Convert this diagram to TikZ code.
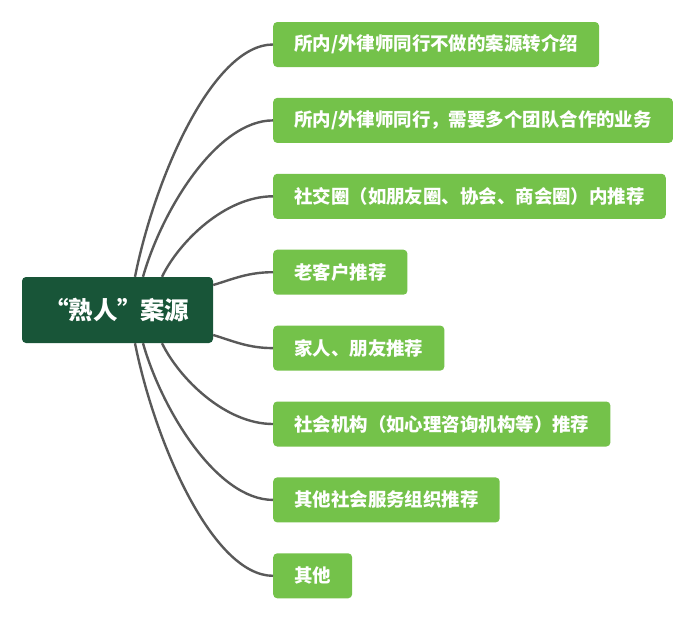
\documentclass[tikz,border=0pt]{standalone}
\usepackage{fontspec}
\newfontfamily\cjk{Noto Sans CJK SC}

\definecolor{rootgreen}{HTML}{185538}
\definecolor{leafgreen}{HTML}{74C24A}
\definecolor{linkgray}{HTML}{595959}

\tikzset{
  rootbox/.style={fill=rootgreen, text=white, rounded corners=4pt, minimum width=191pt, minimum height=66pt, inner sep=0pt, font=\cjk\bfseries\fontsize{24.5pt}{26pt}\selectfont},
  leafbox/.style={fill=leafgreen, text=white, rounded corners=4pt, minimum height=45pt, inner xsep=21pt, inner ysep=0pt, anchor=west, font=\cjk\bfseries\fontsize{18.45pt}{20pt}\selectfont},
  link/.style={draw=linkgray, line width=2.4pt}
}

\begin{document}
\begin{tikzpicture}[x=1pt, y=-1pt]
  \useasboundingbox (0,0) rectangle (695,619);

  \node[rootbox] (root) at (117.5,310) {\hspace*{8.5pt}\makebox[0.6em][r]{“}熟人\makebox[0.92em][l]{”}案源};

  \node[leafbox] (b1) at (273,44.5) {所内/外律师同行不做的案源转介绍};
  \node[leafbox] (b2) at (273,120.4) {所内/外律师同行，需要多个团队合作的业务};
  \node[leafbox] (b3) at (273,196.3) {社交圈（如朋友圈、协会、商会圈）内推荐};
  \node[leafbox] (b4) at (273,272.2) {老客户推荐};
  \node[leafbox] (b5) at (273,348.1) {家人、朋友推荐};
  \node[leafbox] (b6) at (273,424) {社会机构（如心理咨询机构等）推荐};
  \node[leafbox] (b7) at (273,499.9) {其他社会服务组织推荐};
  \node[leafbox] (b8) at (273,575.8) {其他};

  % links, upper half
  \draw[link] ([xshift=17.5pt]root.north) .. controls +(20,-100) and +(-60,0) .. (b1.west);
  \draw[link] ([xshift=25.5pt]root.north) .. controls +(19,-67) and +(-56,0) .. (b2.west);
  \draw[link] ([xshift=44.5pt]root.north) .. controls +(17,-35) and +(-48,0) .. (b3.west);
  \draw[link] ([yshift=25pt]root.east) .. controls +(20,-6) and +(-25,0) .. (b4.west);
  % links, lower half
  \draw[link] ([yshift=-25pt]root.east) .. controls +(20,6) and +(-25,0) .. (b5.west);
  \draw[link] ([xshift=44.5pt]root.south) .. controls +(17,35) and +(-48,0) .. (b6.west);
  \draw[link] ([xshift=25.5pt]root.south) .. controls +(19,67) and +(-56,0) .. (b7.west);
  \draw[link] ([xshift=17.5pt]root.south) .. controls +(20,100) and +(-60,0) .. (b8.west);
\end{tikzpicture}
\end{document}
